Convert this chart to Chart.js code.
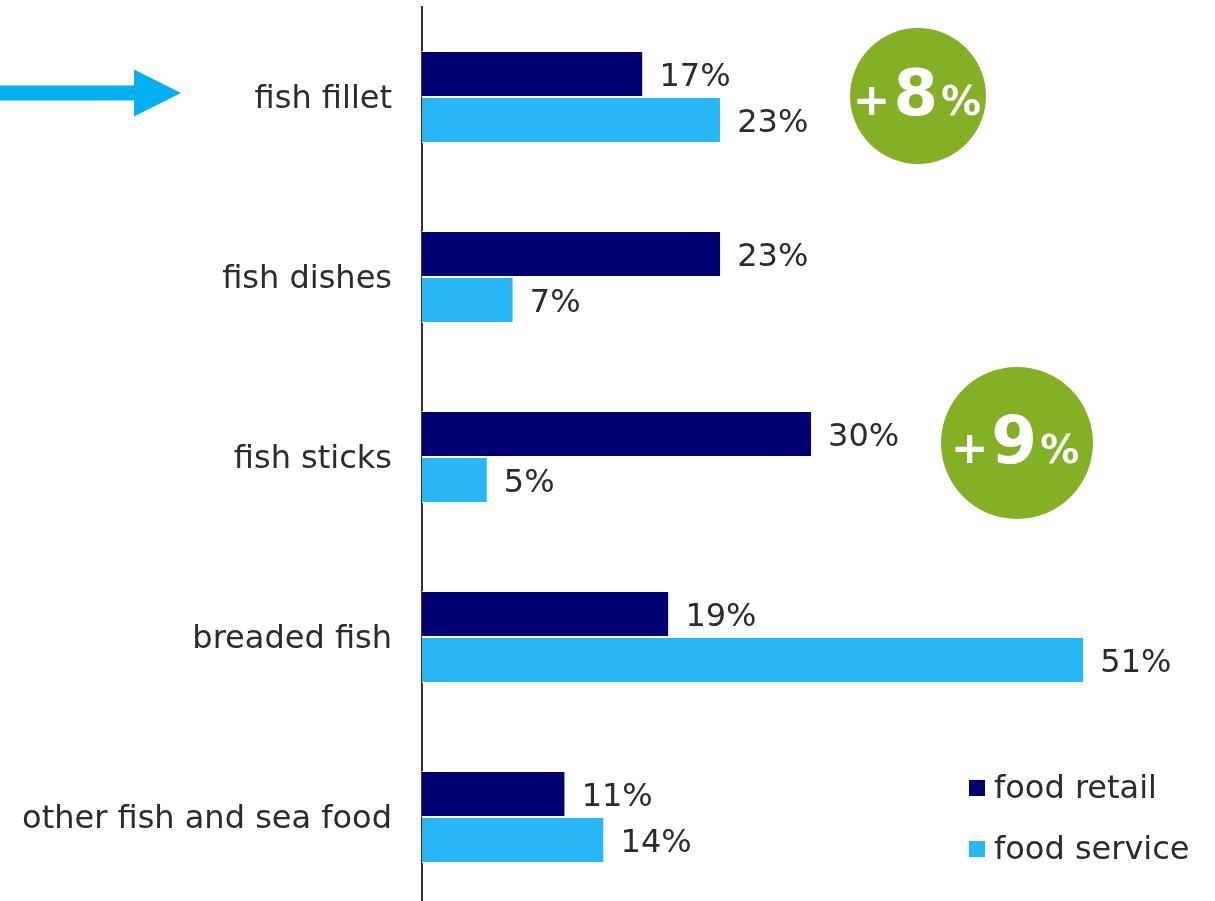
<!DOCTYPE html>
<html><head><meta charset="utf-8">
<script src="https://cdn.jsdelivr.net/npm/chart.js@4/dist/chart.umd.min.js"></script>
<style>
html,body{margin:0;padding:0;background:#fff;overflow:hidden}
#wrap{position:relative;width:1215px;height:901px;overflow:hidden;background:#fff}
canvas{display:block}
</style></head>
<body><div id="wrap"><canvas id="c" width="1215" height="910"></canvas></div>
<script>
const categories = ['fish fillet', 'fish dishes', 'fish sticks', 'breaded fish', 'other fish and sea food'];
const seriesNames = ['food retail', 'food service'];
const foodRetail = [17, 23, 30, 19, 11];
const foodService = [23, 7, 5, 51, 14];
const badgeCategories = ['fish fillet', 'fish sticks'];
const badgeSigns = ['+', '+'];
const badgeNumbers = ['8', '9'];
const arrowCategory = 'fish fillet';

const TEXT = '#2b2b2b';
const FONT = '"DejaVu Sans", Verdana, sans-serif';
const COLORS = ['#000073', '#29b6f6'];

const overlay = {
  id: 'overlay',
  afterDatasetsDraw(chart) {
    const ctx = chart.ctx;
    const ys = chart.scales.y;
    ctx.save();
    // value labels
    ctx.font = '32px ' + FONT;
    ctx.fillStyle = TEXT;
    ctx.textBaseline = 'middle';
    ctx.textAlign = 'left';
    chart.data.datasets.forEach((ds, di) => {
      const meta = chart.getDatasetMeta(di);
      meta.data.forEach((el, i) => {
        ctx.fillText(ds.data[i] + '%', el.x + 17, el.y + 4);
      });
    });
    // arrow
    const ay = ys.getPixelForValue(categories.indexOf(arrowCategory)) - 4;
    ctx.fillStyle = '#00b0f0';
    ctx.beginPath();
    ctx.moveTo(0, ay - 7.5);
    ctx.lineTo(134, ay - 7.5);
    ctx.lineTo(134, ay - 23.5);
    ctx.lineTo(181, ay);
    ctx.lineTo(134, ay + 23.5);
    ctx.lineTo(134, ay + 7.5);
    ctx.lineTo(0, ay + 7.5);
    ctx.closePath();
    ctx.fill();
    // badges
    const badgeGeom = [
      {x: 918, dy: -1, r: 68, big: 64, plus: 45, pct: 40, base: 19, cx: 917},
      {x: 1017, dy: -14, r: 76, big: 66, plus: 45, pct: 39, base: 20, cx: 1015}
    ];
    const GAP = 3;
    badgeCategories.forEach((cat, k) => {
      const g = badgeGeom[k];
      const cy = ys.getPixelForValue(categories.indexOf(cat)) + g.dy;
      ctx.fillStyle = '#84b026';
      ctx.beginPath();
      ctx.arc(g.x, cy, g.r, 0, Math.PI * 2);
      ctx.fill();
      ctx.fillStyle = '#ffffff';
      ctx.textBaseline = 'alphabetic';
      ctx.textAlign = 'left';
      const parts = [[badgeSigns[k], g.plus], [badgeNumbers[k], g.big], ['%', g.pct]];
      let total = GAP * 2;
      const widths = parts.map(p => { ctx.font = 'bold ' + p[1] + 'px ' + FONT; const w = ctx.measureText(p[0]).width; total += w; return w; });
      let x = g.cx - total / 2;
      parts.forEach((p, i) => {
        ctx.font = 'bold ' + p[1] + 'px ' + FONT;
        ctx.fillText(p[0], x, cy + g.base);
        x += widths[i] + GAP;
      });
    });
    // legend
    ctx.font = '32px ' + FONT;
    ctx.textBaseline = 'middle';
    ctx.textAlign = 'left';
    seriesNames.forEach((name, i) => {
      const y = 789 + i * 61;
      ctx.fillStyle = COLORS[i];
      ctx.fillRect(969, y - 9, 16, 16);
      ctx.fillStyle = TEXT;
      ctx.fillText(name, 994, y + 1);
    });
    ctx.restore();
  }
};

new Chart(document.getElementById('c'), {
  type: 'bar',
  data: {
    labels: categories,
    datasets: [
      {label: seriesNames[0], data: foodRetail, backgroundColor: COLORS[0], borderColor: '#ffffff', borderWidth: {top: 1, bottom: 1, left: 0, right: 0}, borderSkipped: false},
      {label: seriesNames[1], data: foodService, backgroundColor: COLORS[1], borderColor: '#ffffff', borderWidth: {top: 1, bottom: 1, left: 0, right: 0}, borderSkipped: false}
    ]
  },
  options: {
    indexAxis: 'y',
    responsive: false,
    animation: false,
    devicePixelRatio: 1,
    categoryPercentage: 0.511,
    barPercentage: 1,
    layout: {padding: {top: 7, right: 2, bottom: 3, left: 0}},
    plugins: {legend: {display: false}, tooltip: {enabled: false}},
    scales: {
      x: {display: false, min: 0, max: 61},
      y: {
        grid: {display: false, drawTicks: false},
        border: {display: true, color: '#333333', width: 2},
        ticks: {color: TEXT, font: {family: FONT, size: 32}, padding: 30, labelOffset: 3},
        afterFit: (s) => { s.width = 422; s.paddingTop = 0; s.paddingBottom = 0; }
      }
    }
  },
  plugins: [overlay]
});
</script>
</body></html>
